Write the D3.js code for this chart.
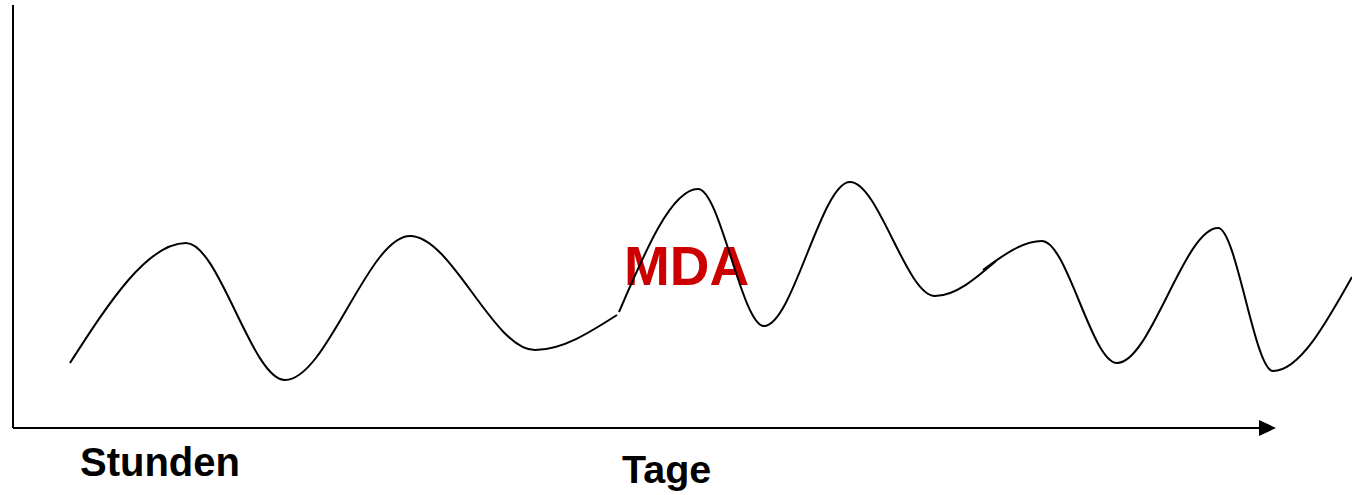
<!DOCTYPE html>
<html>
<head>
<meta charset="utf-8">
<script src="https://cdn.jsdelivr.net/npm/d3@7"></script>
<style>
  html, body { margin: 0; padding: 0; background: #fff; }
  svg { display: block; }
</style>
</head>
<body>
<script>
// Schematic wave, three segments (time position, level above axis)
const segmentHours = [
  [70, 65], [186, 185], [285, 48], [410, 192], [535, 78], [617, 113]
];
const segmentDays1 = [
  [619, 116], [698, 239], [764, 102], [850, 246], [935, 132], [996, 167]
];
const segmentDays2 = [
  [983, 158], [1042, 187], [1117, 65], [1218, 200], [1273, 57], [1352, 151]
];
const segments = [segmentHours, segmentDays1, segmentDays2];
const axisLabels = ["Stunden", "Tage"];
const centerLabel = "MDA";

const W = 1352, H = 495;
const axisY = 428, axisX = 13;

const svg = d3.select("body").append("svg").attr("width", W).attr("height", H);

const x = d3.scaleLinear().domain([0, W]).range([0, W]);
const y = d3.scaleLinear().domain([0, axisY]).range([axisY, 0]);

// Axes
svg.append("line").attr("x1", axisX).attr("y1", 5).attr("x2", axisX).attr("y2", axisY)
  .attr("stroke", "#000").attr("stroke-width", 2);
svg.append("line").attr("x1", axisX).attr("y1", axisY).attr("x2", 1262).attr("y2", axisY)
  .attr("stroke", "#000").attr("stroke-width", 2);
svg.append("path").attr("d", `M1259,${axisY - 8} L1276,${axisY} L1259,${axisY + 8} Z`)
  .attr("fill", "#000");

// Center label (behind curve)
svg.append("text").attr("x", 624).attr("y", 285)
  .attr("font-family", "'Liberation Sans', Arial, sans-serif")
  .attr("font-weight", "bold").attr("font-size", 55).attr("fill", "#cc0000")
  .text(centerLabel);

// Curves
const line = d3.line().x(d => x(d[0])).y(d => y(d[1])).curve(d3.curveMonotoneX);
svg.selectAll("path.seg").data(segments).enter().append("path")
  .attr("class", "seg").attr("d", line)
  .attr("fill", "none").attr("stroke", "#000").attr("stroke-width", 2);

// Axis labels
svg.append("text").attr("x", 80).attr("y", 476)
  .attr("font-family", "'Liberation Sans', Arial, sans-serif")
  .attr("font-weight", "bold").attr("font-size", 40).attr("fill", "#000")
  .text(axisLabels[0]);
svg.append("text").attr("x", 622).attr("y", 483)
  .attr("font-family", "'Liberation Sans', Arial, sans-serif")
  .attr("font-weight", "bold").attr("font-size", 39.5).attr("fill", "#000")
  .text(axisLabels[1]);
</script>
</body>
</html>
